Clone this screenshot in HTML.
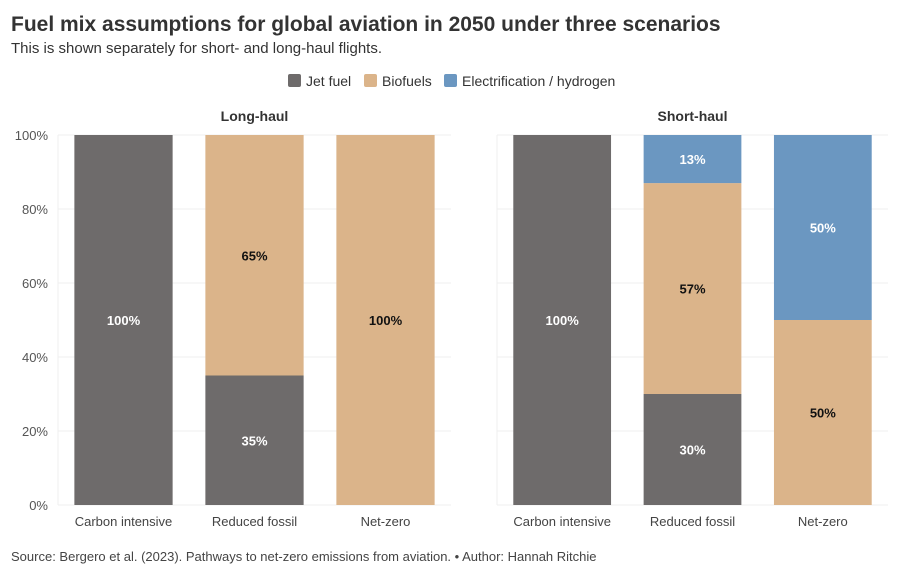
<!DOCTYPE html>
<html><head><meta charset="utf-8"><style>
body{margin:0;width:924px;height:575px;background:#fff;font-family:"Liberation Sans",sans-serif;overflow:hidden}
</style></head><body>
<svg width="924" height="575" id="svg" font-family="Liberation Sans, sans-serif">
<text x="11" y="31" font-size="21" font-weight="bold" fill="#333">Fuel mix assumptions for global aviation in 2050 under three scenarios</text>
<text x="11" y="53" font-size="15" fill="#333">This is shown separately for short- and long-haul flights.</text>
<g font-size="14" fill="#333">
<rect x="288" y="74" width="13" height="13" rx="2" fill="#6e6b6b"/><text x="306" y="86">Jet fuel</text>
<rect x="364" y="74" width="13" height="13" rx="2" fill="#dbb48a"/><text x="382" y="86">Biofuels</text>
<rect x="444" y="74" width="13" height="13" rx="2" fill="#6b97c1"/><text x="462" y="86">Electrification / hydrogen</text>
</g>
<text x="11" y="561" font-size="13" fill="#444">Source: Bergero et al. (2023). Pathways to net-zero emissions from aviation. • Author: Hannah Ritchie</text>
</svg>
<script>
const categories=["Carbon intensive","Reduced fossil","Net-zero"];
const panels=["Long-haul","Short-haul"];
const longJet=[100,35,0];
const longBio=[0,65,100];
const longElec=[0,0,0];
const shortJet=[100,30,0];
const shortBio=[0,57,50];
const shortElec=[0,13,50];
const yTicks=[0,20,40,60,80,100];
const svg=document.getElementById('svg');
const NS='http://www.w3.org/2000/svg';
function mk(t,a,p){const e=document.createElementNS(NS,t);for(const k in a)e.setAttribute(k,a[k]);(p||svg).appendChild(e);return e;}
const y0=505,y1=135;
function y(v){return y0-(v/100)*(y0-y1);}
const panelX=[[58,451],[497,888]];
const colors=["#6e6b6b","#dbb48a","#6b97c1"];
const names=["jet-fuel","biofuels","electrification"];
const data=[[longJet,longBio,longElec],[shortJet,shortBio,shortElec]];
panels.forEach((p,pi)=>{
 const [xa,xb]=panelX[pi];
 const g=mk('g',{});
 
 
 const tt=mk('text',{x:(xa+xb)/2,y:121,'text-anchor':'middle','font-size':14,'font-weight':'bold',fill:'#333'},g);tt.textContent=p;
 
 
 yTicks.forEach(t=>{
  const l=mk('line',{x1:xa,x2:xb,y1:y(t),y2:y(t),stroke:'#efefef',"stroke-width":1},g);
  
  
  if(pi==0){const lb=mk('text',{x:48,y:y(t)+5,'text-anchor':'end','font-size':13,fill:'#555'},g);lb.textContent=t+'%';
  
  }
 });
 const band=(xb-xa)/3;
 categories.forEach((c,ci)=>{
  const bx=xa+ci*band+band*0.125, bw=band*0.75;
  let acc=0;
  data[pi].forEach((ser,si)=>{
   const v=ser[ci]; if(!v)return;
   const r=mk('rect',{x:bx,y:y(acc+v),width:bw,height:y(acc)-y(acc+v),fill:colors[si]},g);
   
   
   const tx=mk('text',{x:bx+bw/2,y:(y(acc)+y(acc+v))/2+5,'text-anchor':'middle','font-size':13,'font-weight':'bold',fill:si==1?'#111':'#fff'},g);
   tx.textContent=v+'%';
   
   
   acc+=v;
  });
  const cl=mk('text',{x:bx+bw/2,y:526,'text-anchor':'middle','font-size':13,fill:'#444'},g);cl.textContent=c;
  
  
 });
 const ax=mk('line',{x1:xa,x2:xa,y1:y1,y2:y0,stroke:'#efefef'},g);
 
 
});
</script>
</body></html>
